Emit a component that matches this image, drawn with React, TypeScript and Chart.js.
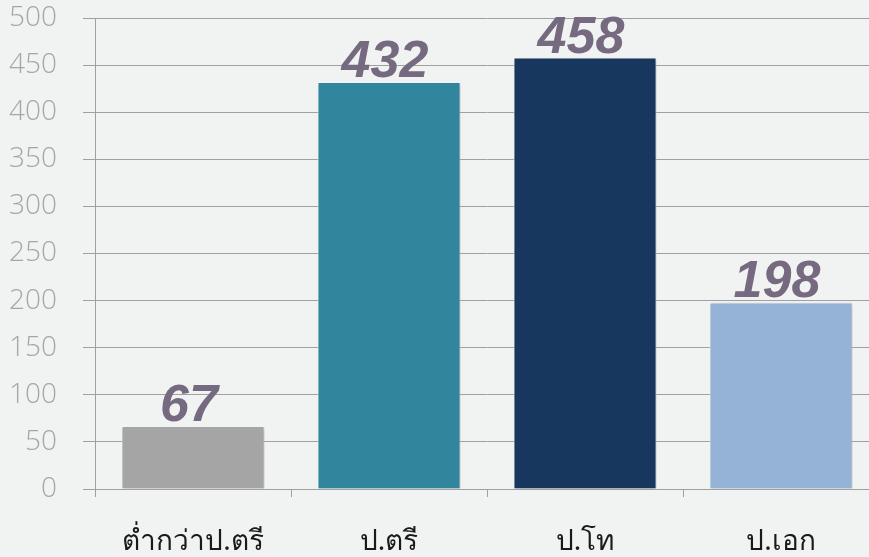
import React, { useEffect, useRef } from "react";
import { Chart, registerables } from "chart.js";

Chart.register(...registerables);

const categories = ["ต่ำกว่าป.ตรี", "ป.ตรี", "ป.โท", "ป.เอก"];
const values = [67, 432, 458, 198];
const barColors = ["#A5A5A5", "#31859C", "#17375E", "#95B3D7"];
const yTicks = [0, 50, 100, 150, 200, 250, 300, 350, 400, 450, 500];

const BG = "#F1F3F2";

const valueLabelPlugin = {
  id: "valueLabels",
  afterDatasetsDraw(chart: any) {
    const ctx = chart.ctx;
    const meta = chart.getDatasetMeta(0);
    ctx.save();
    ctx.font = "italic bold 52px 'Liberation Sans', Arial, sans-serif";
    ctx.fillStyle = "#766A80";
    ctx.textAlign = "center";
    ctx.textBaseline = "alphabetic";
    meta.data.forEach((bar: any, i: number) => {
      const v = chart.data.datasets[0].data[i];
      ctx.fillText(String(v), bar.x - 4, bar.y - 5);
    });
    ctx.restore();
  },
};

const shadowPlugin = {
  id: "barShadow",
  beforeDatasetsDraw(chart: any) {
    const ctx = chart.ctx;
    ctx.save();
    ctx.shadowColor = "rgba(0,0,0,0.22)";
    ctx.shadowBlur = 4;
    ctx.shadowOffsetX = 2;
    ctx.shadowOffsetY = 1;
  },
  afterDatasetsDraw(chart: any) {
    chart.ctx.restore();
  },
};

export default function App() {
  const ref = useRef<HTMLCanvasElement | null>(null);

  useEffect(() => {
    document.documentElement.style.overflow = "hidden";
    document.body.style.overflow = "hidden";
    const canvas = ref.current;
    if (!canvas) return;
    const chart = new Chart(canvas, {
      type: "bar",
      data: {
        labels: categories,
        datasets: [
          {
            data: values,
            backgroundColor: barColors,
            borderColor: "#FFFFFF",
            borderWidth: 1,
            categoryPercentage: 1,
            barPercentage: 0.73,
          },
        ],
      },
      options: {
        responsive: false,
        animation: false,
        devicePixelRatio: 1,
        layout: { padding: { top: 18, right: 21, left: 0, bottom: 0 } },
        plugins: {
          legend: { display: false },
          tooltip: { enabled: false },
        },
        scales: {
          x: {
            offset: true,
            grid: {
              offset: true,
              drawOnChartArea: false,
              drawTicks: true,
              tickLength: 8,
              color: "#A0A0A0",
              lineWidth: 1,
            },
            border: { display: true, color: "#A0A0A0", width: 1 },
            ticks: {
              color: "#1A1A1A",
              font: { family: "'Noto Sans', sans-serif", size: 28 },
              padding: 28,
              maxRotation: 0,
              autoSkip: false,
            },
            afterFit(scale: any) {
              scale.height = 68;
              scale.paddingLeft = 0;
              scale.paddingRight = 0;
            },
          },
          y: {
            min: 0,
            max: 500,
            afterBuildTicks(scale: any) {
              scale.ticks = yTicks.map((v) => ({ value: v }));
            },
            grid: {
              color: "#A0A0A0",
              lineWidth: 1,
              drawTicks: true,
              tickLength: 12,
            },
            border: { display: true, color: "#A0A0A0", width: 1 },
            ticks: {
              color: "#A6A6A6",
              font: { family: "'Open Sans', sans-serif", size: 28, weight: "300" as any },
              padding: 26,
            },
            afterFit(scale: any) {
              scale.width = 95;
              scale.paddingTop = 0;
              scale.paddingBottom = 0;
            },
          },
        },
      },
      plugins: [shadowPlugin, valueLabelPlugin],
    });
    return () => chart.destroy();
  }, []);

  return (
    <div
      style={{
        position: "fixed",
        left: 0,
        top: 0,
        width: 869,
        height: 557,
        overflow: "hidden",
        background: BG,
      }}
    >
      <canvas ref={ref} width={900} height={557} style={{ display: "block" }} />
    </div>
  );
}
